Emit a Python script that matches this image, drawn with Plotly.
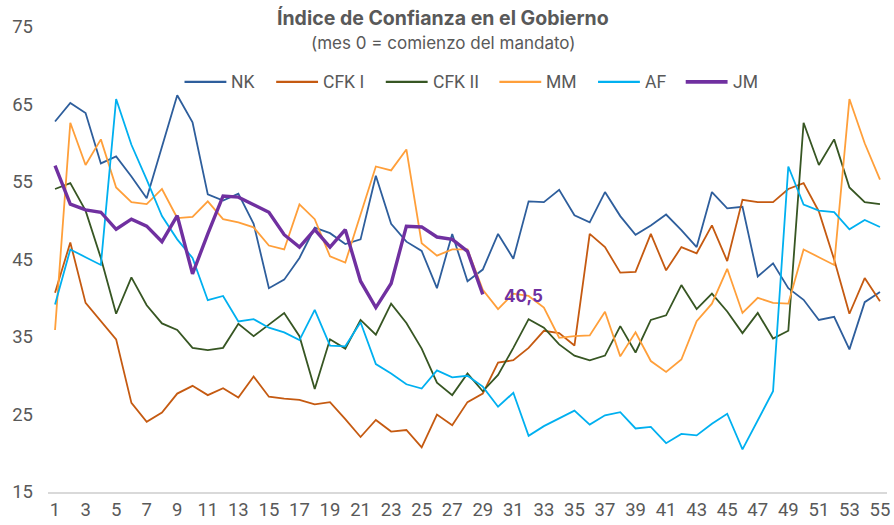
import plotly.graph_objects as go

months = list(range(1, 56))

NK = [62.8, 65.2, 63.9, 57.4, 58.3, 55.7, 52.9, 59.6, 66.2, 62.7,
      53.4, 52.6, 53.5, 49.6, 41.3, 42.4, 45.2, 49.1, 48.4, 47.0,
      47.6, 55.8, 49.6, 47.3, 46.1, 41.3, 48.3, 42.2, 43.7, 48.3,
      45.1, 52.5, 52.4, 54.0, 50.7, 49.8, 53.7, 50.6, 48.2, 49.4,
      50.8, 48.8, 46.6, 53.7, 51.6, 51.8, 42.8, 44.5, 41.3, 39.8,
      37.2, 37.6, 33.4, 39.5, 40.8]

CFK_I = [40.7, 47.2, 39.4, 37.0, 34.7, 26.5, 24.05, 25.25, 27.7, 28.7,
         27.5, 28.4, 27.2, 29.9, 27.3, 27.05, 26.9, 26.3, 26.6, 24.4,
         22.1, 24.3, 22.8, 23.0, 20.75, 25.0, 23.6, 26.6, 27.7, 31.7,
         32.0, 33.6, 35.8, 35.5, 33.9, 48.3, 46.6, 43.3, 43.4, 48.3,
         43.6, 46.6, 45.8, 49.4, 44.8, 52.7, 52.4, 52.4, 54.1, 54.85,
         51.2, 45.0, 38.0, 42.6, 39.6]

CFK_II = [54.1, 54.85, 51.3, 45.2, 38.0, 42.7, 39.1, 36.75, 35.9, 33.6,
          33.3, 33.6, 36.7, 35.1, 36.6, 38.1, 35.1, 28.3, 34.7, 33.5,
          37.2, 35.3, 39.3, 36.8, 33.5, 29.1, 27.5, 30.3, 28.0, 30.1,
          33.6, 37.3, 36.2, 34.05, 32.6, 32.0, 32.6, 36.4, 33.0, 37.2,
          37.8, 41.7, 38.6, 40.6, 38.3, 35.5, 38.1, 34.8, 35.8, 62.65,
          57.2, 60.5, 54.3, 52.4, 52.15]

MM = [35.9, 62.65, 57.2, 60.5, 54.3, 52.4, 52.15, 54.1, 50.35, 50.5,
      52.5, 50.2, 49.8, 49.15, 46.8, 46.3, 52.1, 50.2, 45.4, 44.6,
      50.8, 57.0, 56.5, 59.2, 47.1, 45.5, 46.3, 46.3, 41.1, 38.6,
      40.6, 40.3, 38.8, 34.9, 35.1, 35.2, 38.25, 32.5, 35.6, 31.9,
      30.5, 32.1, 37.05, 39.3, 43.8, 38.1, 40.05, 39.4, 39.3, 46.3,
      45.3, 44.3, 65.7, 60.0, 55.3]

AF = [39.2, 46.3, 45.3, 44.3, 65.7, 59.8, 55.3, 50.6, 47.6, 45.2,
      39.75, 40.3, 37.0, 37.3, 36.2, 35.6, 34.6, 38.5, 33.9, 33.8,
      36.9, 31.5, 30.3, 28.9, 28.35, 30.7, 29.8, 30.0, 28.6, 26.0,
      27.8, 22.25, 23.5, 24.5, 25.5, 23.7, 24.9, 25.3, 23.2, 23.4,
      21.3, 22.5, 22.3, 23.8, 25.1, 20.5, 24.2, 28.0, 57.0, 52.1,
      51.3, 51.1, 48.9, 50.1, 49.2]

JM = [57.1, 52.15, 51.4, 51.1, 48.9, 50.2, 49.3, 47.3, 50.65, 43.15,
      48.3, 53.2, 53.05, 52.1, 51.1, 48.2, 46.6, 48.85, 46.6, 48.85,
      42.2, 38.8, 41.9, 49.3, 49.2, 47.9, 47.6, 46.05, 40.5]

series_names = ["NK", "CFK I", "CFK II", "MM", "AF", "JM"]
series_values = [NK, CFK_I, CFK_II, MM, AF, JM]
series_colors = ["#2E5E9C", "#C55A11", "#375623", "#FF9F3A", "#00B0F0", "#7030A0"]
series_widths = [1.8, 1.8, 1.8, 1.8, 1.8, 3.4]

x_ticks = list(range(1, 56, 2))
y_ticks = list(range(15, 76, 10))

TITLE = "Índice de Confianza en el Gobierno"
SUBTITLE = "(mes 0 = comienzo del mandato)"

FONT = "Roboto"
TFONT = "Inter"
GRAY = "#595959"

W, H = 894, 525
L, R, T, B = 48, 4, 27, 32
PW, PH = W - L - R, H - T - B


def px_x(px):
    return (px - L) / PW


def px_y(py):
    return (H - B - py) / PH


fig = go.Figure()
for name, vals, color, w in zip(series_names, series_values, series_colors, series_widths):
    fig.add_trace(go.Scatter(
        x=months[:len(vals)], y=vals, name=name, mode="lines",
        line=dict(color=color, width=w), showlegend=False,
    ))

annotations = [
    dict(x=px_x(444), y=px_y(18), xref="paper", yref="paper",
         text="<b>" + TITLE + "</b>", showarrow=False,
         xanchor="center", yanchor="middle",
         font=dict(family=TFONT, size=19.5, color=GRAY)),
    dict(x=px_x(445), y=px_y(43), xref="paper", yref="paper",
         text=SUBTITLE, showarrow=False,
         xanchor="center", yanchor="middle",
         font=dict(family=TFONT, size=17, color=GRAY)),
    dict(x=len(JM), y=JM[-1], xref="x", yref="y", text="<b>40,5</b>", showarrow=False,
         xanchor="left", yanchor="middle", xshift=19, yshift=-2,
         font=dict(family=TFONT, size=17, color="#7030A0")),
]

# legend drawn as line samples + labels
legend_starts = [185, 277, 387, 501, 600, 688]
LEG_Y = 82
LEG_LEN = 42
shapes = []
for name, color, w, x0 in zip(series_names, series_colors, series_widths, legend_starts):
    shapes.append(dict(type="line", xref="paper", yref="paper",
                       x0=px_x(x0), x1=px_x(x0 + LEG_LEN), y0=px_y(LEG_Y), y1=px_y(LEG_Y),
                       line=dict(color=color, width=w + 0.4)))
    annotations.append(dict(x=px_x(x0 + LEG_LEN + 3), y=px_y(LEG_Y), xref="paper", yref="paper",
                            text=name, showarrow=False, xanchor="left", yanchor="middle",
                            font=dict(family=FONT, size=17.5, color=GRAY)))

fig.update_layout(
    width=W, height=H,
    margin=dict(l=L, r=R, t=T, b=B),
    paper_bgcolor="white", plot_bgcolor="white",
    font=dict(family=FONT, color=GRAY),
    showlegend=False,
    annotations=annotations,
    shapes=shapes,
)

fig.update_xaxes(
    range=[0.54, 55.46], tickmode="array", tickvals=x_ticks,
    ticktext=[str(t) for t in x_ticks], showgrid=False, zeroline=False,
    showline=True, linecolor="#D9D9D9", linewidth=1.5, ticks="",
    ticklabeloverflow="allow",
    tickfont=dict(family=FONT, size=18.5, color=GRAY),
)
fig.update_yaxes(
    range=[15, 75], tickmode="array", tickvals=y_ticks,
    ticktext=[str(t) for t in y_ticks], showgrid=False, zeroline=False,
    showline=False, ticks="", ticklabelstandoff=14,
    tickfont=dict(family=FONT, size=18.5, color=GRAY),
)

fig.write_html("out.html", config={"displayModeBar": False},
               post_script="document.body.style.margin='0px';")
